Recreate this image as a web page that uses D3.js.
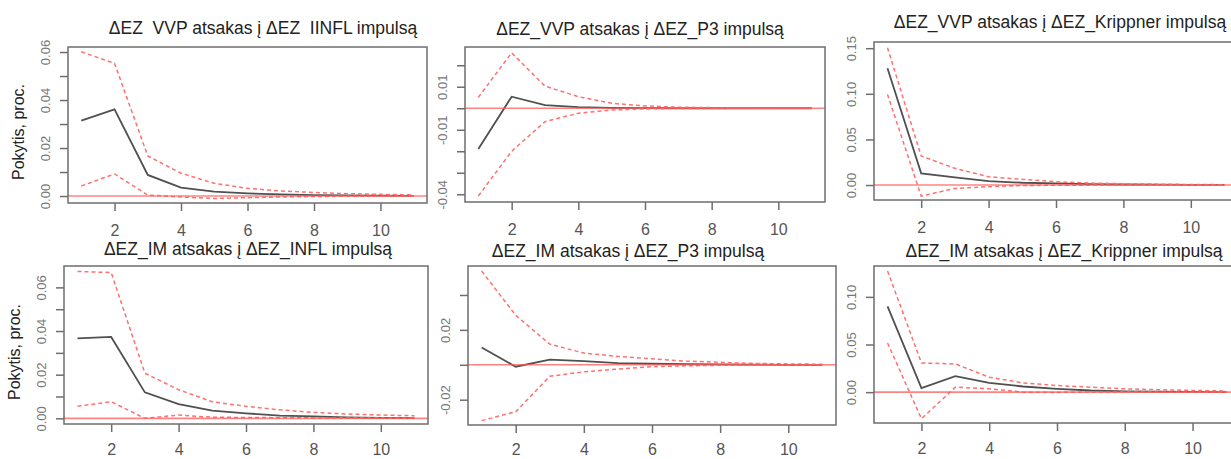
<!DOCTYPE html>
<html>
<head>
<meta charset="utf-8">
<script src="https://cdn.jsdelivr.net/npm/d3@7"></script>
<style>
  html, body { margin: 0; padding: 0; background: #ffffff; }
  svg { display: block; }
  text { font-family: "Liberation Sans", Arial, Helvetica, sans-serif; }
</style>
</head>
<body>
<svg id="chart" width="1231" height="459"></svg>
<script>
// ---------------- data ----------------
const steps = [1, 2, 3, 4, 5, 6, 7, 8, 9, 10, 11];
const xTickValues = [2, 4, 6, 8, 10];
const yAxisTitle = "Pokytis, proc.";

const panelTitles = [
  "ΔEZ  VVP atsakas į ΔEZ  IINFL impulsą",
  "ΔEZ_VVP atsakas į ΔEZ_P3 impulsą",
  "ΔEZ_VVP atsakas į ΔEZ_Krippner impulsą",
  "ΔEZ_IM atsakas į ΔEZ_INFL impulsą",
  "ΔEZ_IM atsakas į ΔEZ_P3 impulsą",
  "ΔEZ_IM atsakas į ΔEZ_Krippner impulsą"
];

// VVP response to INFL
const vvpInfl      = [0.0314, 0.0361, 0.0088, 0.0035, 0.0018, 0.0011, 0.0007, 0.0004, 0.0003, 0.0002, 0.0001];
const vvpInflUpper = [0.0601, 0.0553, 0.0167, 0.0095, 0.0053, 0.0032, 0.0021, 0.0015, 0.0010, 0.0007, 0.0005];
const vvpInflLower = [0.0042, 0.0092, 0.0004, -0.0004, -0.0010, -0.0007, -0.0004, -0.0002, -0.0001, -0.0001, 0.0000];
// VVP response to P3
const vvpP3      = [-0.0189, 0.0054, 0.0015, 0.0005, 0.0002, 0.0001, 0.0000, 0.0000, 0.0000, 0.0000, 0.0000];
const vvpP3Upper = [0.0051, 0.0258, 0.0103, 0.0054, 0.0023, 0.0011, 0.0005, 0.0003, 0.0002, 0.0001, 0.0001];
const vvpP3Lower = [-0.0408, -0.0200, -0.0062, -0.0023, -0.0008, -0.0003, -0.0001, -0.0001, 0.0000, 0.0000, 0.0000];
// VVP response to Krippner
const vvpKr      = [0.1280, 0.0128, 0.0084, 0.0044, 0.0025, 0.0018, 0.0010, 0.0006, 0.0004, 0.0002, 0.0001];
const vvpKrUpper = [0.1506, 0.0318, 0.0183, 0.0091, 0.0062, 0.0036, 0.0022, 0.0015, 0.0010, 0.0006, 0.0004];
const vvpKrLower = [0.0994, -0.0121, -0.0037, -0.0018, -0.0005, -0.0002, -0.0001, 0.0000, 0.0000, 0.0000, 0.0000];
// IM response to INFL
const imInfl      = [0.0366, 0.0373, 0.0119, 0.0065, 0.0035, 0.0023, 0.0012, 0.0009, 0.0004, 0.0002, 0.0001];
const imInflUpper = [0.0673, 0.0668, 0.0207, 0.0131, 0.0076, 0.0055, 0.0039, 0.0027, 0.0020, 0.0015, 0.0012];
const imInflLower = [0.0055, 0.0076, 0.0000, 0.0015, 0.0005, 0.0004, 0.0003, 0.0002, 0.0001, 0.0001, 0.0000];
// IM response to P3
const imP3      = [0.0099, -0.0011, 0.0029, 0.0021, 0.0010, 0.0006, 0.0004, 0.0002, 0.0001, 0.0000, 0.0000];
const imP3Upper = [0.0537, 0.0284, 0.0118, 0.0067, 0.0048, 0.0034, 0.0021, 0.0014, 0.0008, 0.0005, 0.0003];
const imP3Lower = [-0.0320, -0.0269, -0.0066, -0.0040, -0.0025, -0.0011, -0.0006, -0.0003, -0.0002, -0.0001, 0.0000];
// IM response to Krippner
const imKr      = [0.0900, 0.0042, 0.0167, 0.0097, 0.0059, 0.0035, 0.0017, 0.0008, 0.0004, 0.0002, 0.0001];
const imKrUpper = [0.1272, 0.0306, 0.0296, 0.0157, 0.0097, 0.0069, 0.0052, 0.0035, 0.0025, 0.0018, 0.0012];
const imKrLower = [0.0516, -0.0279, 0.0052, 0.0035, 0.0000, -0.0003, 0.0002, 0.0001, 0.0000, 0.0000, 0.0000];

// y tick values and which of them carry a label
const yTicks1 = [0, 0.01, 0.02, 0.03, 0.04, 0.05, 0.06];
const yLabels1 = [0, 0.02, 0.04, 0.06];
const yTicks2 = [-0.04, -0.03, -0.02, -0.01, 0, 0.01, 0.02];
const yLabels2 = [-0.04, -0.01, 0.01];
const yTicks3 = [0, 0.05, 0.10, 0.15];
const yLabels3 = [0, 0.05, 0.10, 0.15];
const yTicks4 = [0, 0.01, 0.02, 0.03, 0.04, 0.05, 0.06];
const yLabels4 = [0, 0.02, 0.04, 0.06];
const yTicks5 = [-0.02, 0, 0.02, 0.04];
const yLabels5 = [-0.02, 0.02];
const yTicks6 = [0, 0.05, 0.10];
const yLabels6 = [0, 0.05, 0.10];

// y domains (plot-region extents) per panel
const yDomains = [
  [-0.0029, 0.0621], [-0.0436, 0.0285], [-0.0164, 0.1568],
  [-0.0026, 0.0698], [-0.0345, 0.0566], [-0.0324, 0.1324]
];
const xDomain = [0.6, 11.4];

// ---------------- layout ----------------
const layout = [
  { l: 68,  r: 427,  t: 47,  b: 203, tx: 263,  ty: 34,  lx: 33, ylab: true },
  { l: 465, r: 825,  t: 47,  b: 202, tx: 640,  ty: 35,  lx: 33, ylab: false },
  { l: 874, r: 1238, t: 42,  b: 200, tx: 1060, ty: 28,  lx: 33, ylab: false },
  { l: 64,  r: 428,  t: 266, b: 424, tx: 248,  ty: 255, lx: 31, ylab: true },
  { l: 468, r: 836,  t: 266, b: 425, tx: 628,  ty: 257, lx: 30, ylab: false },
  { l: 874, r: 1240, t: 266, b: 423, tx: 1064, ty: 257, lx: 31, ylab: false }
];

const panels = [
  { title: panelTitles[0], mid: vvpInfl, hi: vvpInflUpper, lo: vvpInflLower, ticks: yTicks1, labels: yLabels1 },
  { title: panelTitles[1], mid: vvpP3,   hi: vvpP3Upper,   lo: vvpP3Lower,   ticks: yTicks2, labels: yLabels2 },
  { title: panelTitles[2], mid: vvpKr,   hi: vvpKrUpper,   lo: vvpKrLower,   ticks: yTicks3, labels: yLabels3 },
  { title: panelTitles[3], mid: imInfl,  hi: imInflUpper,  lo: imInflLower,  ticks: yTicks4, labels: yLabels4 },
  { title: panelTitles[4], mid: imP3,    hi: imP3Upper,    lo: imP3Lower,    ticks: yTicks5, labels: yLabels5 },
  { title: panelTitles[5], mid: imKr,    hi: imKrUpper,    lo: imKrLower,    ticks: yTicks6, labels: yLabels6 }
];

const svg = d3.select("#chart");
const axisColor = "#6e6e6e";
const fmt = v => v.toFixed(2);

panels.forEach((p, i) => {
  const L = layout[i];
  const x = d3.scaleLinear().domain(xDomain).range([L.l, L.r]);
  const y = d3.scaleLinear().domain(yDomains[i]).range([L.b, L.t]);
  const g = svg.append("g");

  const clipId = "clip" + i;
  svg.append("clipPath").attr("id", clipId)
    .append("rect").attr("x", L.l).attr("y", L.t)
    .attr("width", L.r - L.l).attr("height", L.b - L.t);

  const plot = g.append("g").attr("clip-path", `url(#${clipId})`);
  const line = arr => d3.line().x((d, k) => x(steps[k])).y(d => y(d))(arr);

  plot.append("path").attr("d", line(p.mid))
    .attr("fill", "none").attr("stroke", "#505050").attr("stroke-width", 1.8);
  [p.hi, p.lo].forEach(arr => {
    plot.append("path").attr("d", line(arr))
      .attr("fill", "none").attr("stroke", "#ff7070")
      .attr("stroke-width", 1.5).attr("stroke-dasharray", "4,3");
  });
  plot.append("line")
    .attr("x1", L.l).attr("x2", L.r).attr("y1", y(0)).attr("y2", y(0))
    .attr("stroke", "#ff5a5a").attr("stroke-opacity", 0.75).attr("stroke-width", 1.6);

  // box
  g.append("rect").attr("x", L.l).attr("y", L.t)
    .attr("width", L.r - L.l).attr("height", L.b - L.t)
    .attr("fill", "none").attr("stroke", axisColor).attr("stroke-width", 1.5);

  // x axis
  const xa = g.append("g").attr("transform", `translate(0,${L.b})`)
    .call(d3.axisBottom(x).tickValues(xTickValues).tickSize(8).tickSizeOuter(0));
  xa.select(".domain").remove();
  xa.selectAll(".tick line").attr("stroke", axisColor).attr("stroke-width", 1.5);
  xa.selectAll(".tick text").attr("fill", "#555").attr("font-size", 16)
    .attr("font-family", "'Liberation Sans', Arial, sans-serif")
    .attr("y", L.lx).attr("dy", 0);

  // y axis
  const labelSet = new Set(p.labels.map(fmt));
  const ya = g.append("g").attr("transform", `translate(${L.l},0)`)
    .call(d3.axisLeft(y).tickValues(p.ticks).tickSize(8).tickSizeOuter(0)
      .tickFormat(v => labelSet.has(fmt(v)) ? fmt(v) : ""));
  ya.select(".domain").remove();
  ya.selectAll(".tick line").attr("stroke", axisColor).attr("stroke-width", 1.5);
  ya.selectAll(".tick text").attr("fill", "#777").attr("font-size", 13)
    .attr("font-family", "'Liberation Sans', Arial, sans-serif")
    .attr("transform", "rotate(-90)")
    .attr("text-anchor", "middle").attr("x", 0).attr("y", -18).attr("dy", 0);

  // title
  g.append("text").attr("x", L.tx).attr("y", L.ty)
    .attr("text-anchor", "middle").attr("font-size", 17.5).attr("fill", "#222")
    .style("white-space", "pre")
    .text(p.title);

  if (L.ylab) {
    const cy = (L.t + L.b) / 2 + 7;
    g.append("text")
      .attr("transform", `translate(${L.l - 44},${cy}) rotate(-90)`)
      .attr("text-anchor", "middle").attr("font-size", 16).attr("fill", "#222")
      .text(yAxisTitle);
  }
});
</script>
</body>
</html>
